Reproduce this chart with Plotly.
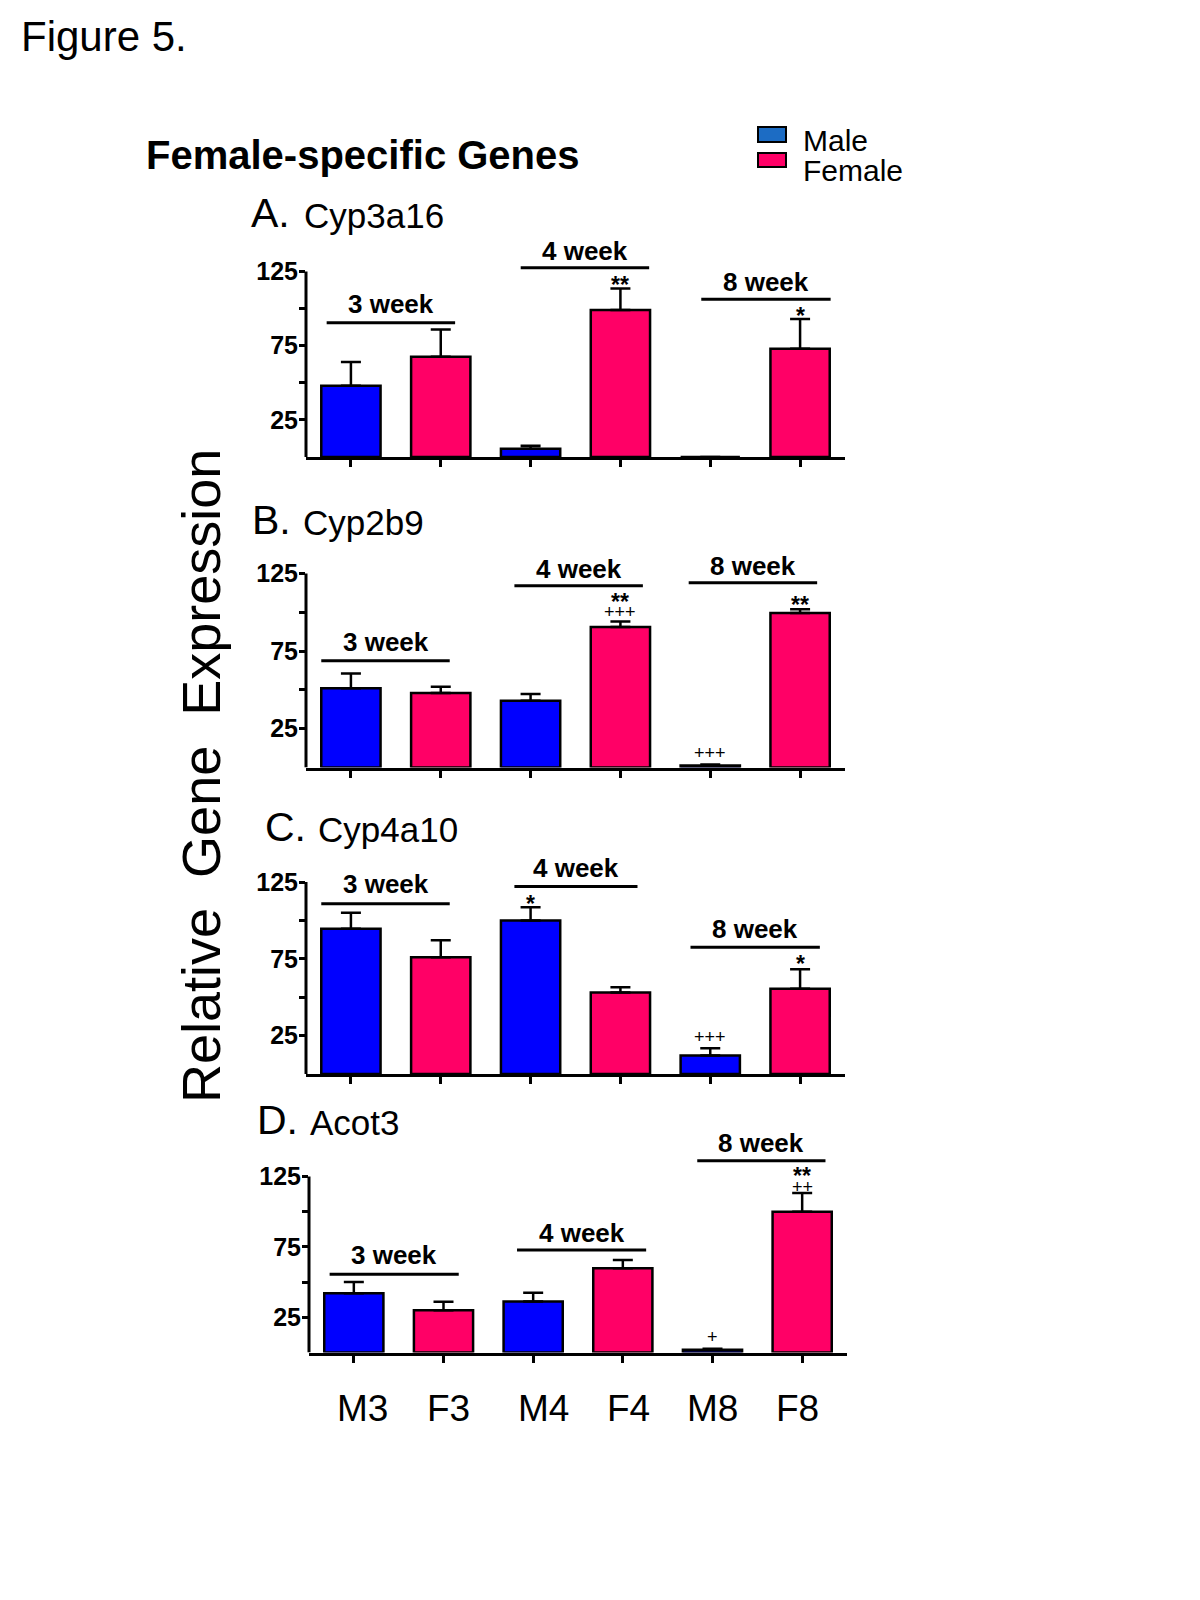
import plotly.graph_objects as go

# ---------------- data ----------------
categories = ["M3", "F3", "M4", "F4", "M8", "F8"]
sexes = ["Male", "Female", "Male", "Female", "Male", "Female"]
gene_names = ["Cyp3a16", "Cyp2b9", "Cyp4a10", "Acot3"]
panel_letters = ["A.", "B.", "C.", "D."]
week_labels = ["3 week", "4 week", "8 week"]

cyp3a16_mean = [48, 67.5, 5.5, 99, 0, 73]
cyp3a16_sem = [16, 18.5, 2, 14.5, 0, 20]
cyp2b9_mean = [51, 48, 43, 90.5, 1.3, 99.5]
cyp2b9_sem = [9.5, 4, 4.3, 3.5, 0.7, 2.5]
cyp4a10_mean = [94.5, 76, 100, 53, 12, 55.5]
cyp4a10_sem = [10.5, 11, 8.5, 3.5, 4.8, 12.7]
acot3_mean = [42, 30, 36.2, 59.8, 2, 100]
acot3_sem = [8, 6, 6.2, 5.9, 0.6, 13.2]

y_tick_values = [25, 50, 75, 100, 125]
y_tick_labels = ["25", "", "75", "", "125"]

# significance marks per panel: (category index, text, y in data units)
cyp3a16_marks = [(3, "**", 120), (5, "*", 98.9)]
cyp2b9_marks = [(3, "**", 110.5), (3, "+++", 100.0), (5, "**", 108.4), (4, "+++", 9.1)]
cyp4a10_marks = [(2, "*", 114.5), (4, "+++", 24), (5, "*", 75.4)]
acot3_marks = [(5, "**", 129.3), (5, "++", 117.3), (4, "+", 11.1)]

# ---------------- layout config ----------------
means = [cyp3a16_mean, cyp2b9_mean, cyp4a10_mean, acot3_mean]
sems = [cyp3a16_sem, cyp2b9_sem, cyp4a10_sem, acot3_sem]
marks = [cyp3a16_marks, cyp2b9_marks, cyp4a10_marks, acot3_marks]

W, H = 1200, 1600
PAGE_MARGIN = 8  # default body margin of the html page
# pixel geometry of each panel: (x_left, x_right, y_px_of_zero, px_per_unit)
panel_geom = [
    (306, 845, 457.0, 1.484),
    (306, 845, 767.5, 1.552),
    (306, 845, 1074.0, 1.536),
    (309, 847, 1352.5, 1.408),
]
Y_TOP = 150
# bracket positions per panel: (x_start, x_end, y_line, y_text) for 3/4/8 week
brackets = [
    [(-0.27, 1.16, 90.5, 103), (1.89, 3.32, 127.5, 138.7), (3.90, 5.34, 106.3, 118)],
    [(-0.33, 1.10, 68.8, 81), (1.82, 3.25, 117.1, 127.7), (3.76, 5.19, 119.1, 129.8)],
    [(-0.33, 1.10, 110.8, 123.8), (1.82, 3.19, 122.1, 134.1), (3.78, 5.22, 82.6, 94.5)],
    [(-0.27, 1.17, 55.5, 69.3), (1.82, 3.26, 72.8, 84.6), (3.83, 5.26, 136.2, 148.8)],
]
# panel title positions in px: (letter_left, gene_left, y_center)
title_pos = [(249, 302, 213), (250, 301, 520), (263, 316, 827), (255, 308, 1120)]
bottom_label_shift = [9, 5, 10, 6, 0, -5]

BAR_COLORS = {"Male": "#0000FF", "Female": "#FF0066"}
LEGEND_COLORS = {"Male": "#1C6CC4", "Female": "#FF0066"}
FONT = "Arial, Liberation Sans, sans-serif"


def px_x(p):
    return (p - PAGE_MARGIN) / W


def px_y(p):
    return 1 - (p - PAGE_MARGIN) / H


fig = go.Figure()
layout = dict(
    width=W, height=H, margin=dict(l=0, r=0, t=0, b=0),
    paper_bgcolor="white", plot_bgcolor="white",
    font=dict(family=FONT, color="black"),
    showlegend=False,
)
shapes = []
annotations = []

for i in range(4):
    n = "" if i == 0 else str(i + 1)
    xa, ya = "x" + n, "y" + n
    xl, xr, y0px, ppu = panel_geom[i]
    ytop_px = y0px - Y_TOP * ppu
    fig.add_trace(go.Bar(
        x=list(range(len(categories))), y=means[i],
        marker=dict(color=[BAR_COLORS[s] for s in sexes],
                    line=dict(color="black", width=2.5)),
        width=0.66,
        error_y=dict(type="data", symmetric=False, array=sems[i],
                     arrayminus=[0] * len(categories),
                     color="black", thickness=2.5, width=10),
        xaxis=xa, yaxis=ya, showlegend=False,
    ))
    layout["xaxis" + n] = dict(
        domain=[px_x(xl), px_x(xr)], range=[-0.5, 5.5], anchor=ya,
        showline=True, linecolor="black", linewidth=3,
        ticks="outside", ticklen=7, tickwidth=2.5, tickcolor="black",
        tickvals=list(range(len(categories))), showticklabels=False,
        showgrid=False, zeroline=False, fixedrange=True,
    )
    layout["yaxis" + n] = dict(
        domain=[px_y(y0px), px_y(ytop_px)], range=[0, Y_TOP], anchor=xa,
        showline=False, ticks="outside", ticklen=6, tickwidth=2.5,
        tickcolor="black", tickvals=y_tick_values, ticktext=y_tick_labels,
        tickfont=dict(family=FONT, size=25, color="black", weight="bold"),
        ticklabelstandoff=-4,
        showgrid=False, zeroline=False, fixedrange=True,
    )
    # y axis line only up to 125
    shapes.append(dict(type="line", xref=xa + " domain", yref=ya,
                       x0=0, x1=0, y0=0, y1=125,
                       line=dict(color="black", width=3)))
    # week brackets
    for (xs, xe, yl, yt), wl in zip(brackets[i], week_labels):
        shapes.append(dict(type="line", xref=xa, yref=ya, x0=xs, x1=xe,
                           y0=yl, y1=yl, line=dict(color="black", width=3)))
        annotations.append(dict(
            xref=xa, yref=ya, x=(xs + xe) / 2, y=yt, text=wl, showarrow=False,
            xanchor="center", yanchor="middle",
            font=dict(family=FONT, size=26, color="black", weight="bold")))
    # significance marks
    for ci, txt, yy in marks[i]:
        star = "*" in txt
        annotations.append(dict(
            xref=xa, yref=ya, x=ci, y=yy, text=txt, showarrow=False,
            xanchor="center", yanchor="middle",
            yshift=-6 if star else 0,
            font=dict(family=FONT, size=23 if star else 18, color="black",
                      weight="bold" if star else "normal")))
    # panel titles
    lx, gx, ty = title_pos[i]
    annotations.append(dict(xref="paper", yref="paper", x=px_x(lx), y=px_y(ty),
                            text=panel_letters[i], showarrow=False,
                            xanchor="left", yanchor="middle",
                            font=dict(family=FONT, size=41, color="black")))
    annotations.append(dict(xref="paper", yref="paper", x=px_x(gx), y=px_y(ty + 2),
                            text=gene_names[i], showarrow=False,
                            xanchor="left", yanchor="middle",
                            font=dict(family=FONT, size=35, color="black")))

# bottom category labels
for ci, (cat, sh) in enumerate(zip(categories, bottom_label_shift)):
    annotations.append(dict(xref="x4", yref="paper", x=ci, y=px_y(1408),
                            xshift=sh, text=cat, showarrow=False,
                            xanchor="center", yanchor="middle",
                            font=dict(family=FONT, size=37, color="black")))

# figure label and headings
annotations.append(dict(xref="paper", yref="paper", x=px_x(19), y=px_y(37),
                        text="Figure 5.", showarrow=False,
                        xanchor="left", yanchor="middle",
                        font=dict(family=FONT, size=42, color="black")))
annotations.append(dict(xref="paper", yref="paper", x=px_x(144), y=px_y(155),
                        text="Female-specific Genes", showarrow=False,
                        xanchor="left", yanchor="middle",
                        font=dict(family=FONT, size=40, color="black", weight="bold")))
annotations.append(dict(xref="paper", yref="paper", x=px_x(201), y=px_y(776),
                        text="Relative\u00a0 Gene\u00a0 Expression", showarrow=False,
                        textangle=-90, xanchor="center", yanchor="middle",
                        font=dict(family=FONT, size=54, color="black")))

# legend
legend_rows = [("Male", 127, 142, 140), ("Female", 153, 167, 171)]
for lab, yt, yb, yc in legend_rows:
    shapes.append(dict(type="rect", xref="paper", yref="paper",
                       x0=px_x(758), x1=px_x(786), y0=px_y(yb), y1=px_y(yt),
                       fillcolor=LEGEND_COLORS[lab],
                       line=dict(color="black", width=2)))
    annotations.append(dict(xref="paper", yref="paper", x=px_x(801), y=px_y(yc),
                            text=lab, showarrow=False, xanchor="left", yanchor="middle",
                            font=dict(family=FONT, size=30, color="black")))

layout["shapes"] = shapes
layout["annotations"] = annotations
fig.update_layout(**layout)
fig.write_html("out.html")
